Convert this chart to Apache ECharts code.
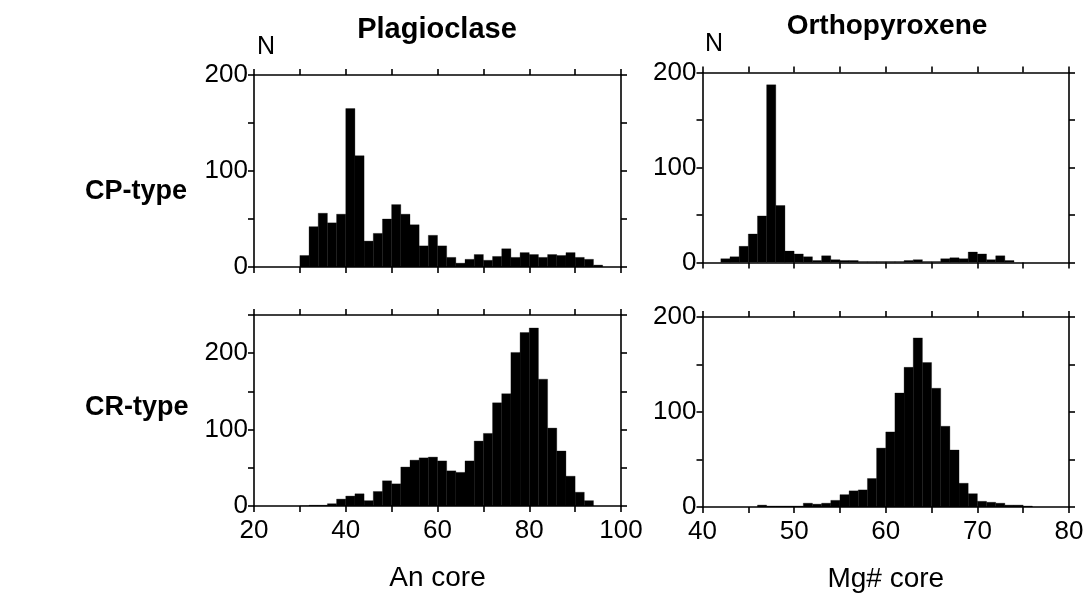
<!DOCTYPE html>
<html>
<head>
<meta charset="utf-8">
<script src="https://cdn.jsdelivr.net/npm/echarts@6/dist/echarts.min.js"></script>
<style>
html,body{margin:0;padding:0;background:#fff;}
#chart{width:1091px;height:594px;}
</style>
</head>
<body>
<div id="chart"></div>
<script>
// ---- Data (histogram counts) ----
// Plagioclase An core, CP-type: bins of width 2 starting at 30
const plagCPStart = 30;
const plagCPWidth = 2;
const plagCP = [12, 42, 56, 46, 55, 165, 116, 27, 35, 50, 65, 55, 44, 22, 33, 22, 10, 4, 8, 13, 7, 11, 19, 10, 15, 13, 10, 13, 12, 15, 10, 8, 2];

// Plagioclase An core, CR-type: bins of width 2 starting at 30
const plagCRStart = 30;
const plagCRWidth = 2;
const plagCR = [0, 1, 1, 3, 9, 13, 16, 7, 19, 33, 29, 51, 60, 63, 64, 59, 46, 44, 59, 85, 95, 135, 147, 201, 227, 233, 166, 102, 72, 39, 18, 7];

// Orthopyroxene Mg# core, CP-type: bins of width 1 starting at 42
const opxCPStart = 42;
const opxCPWidth = 1;
const opxCP = [4, 6, 17, 30, 49, 187, 60, 12, 9, 6, 2, 7, 3, 2, 2, 1, 1, 1, 1, 1, 2, 3, 1, 1, 4, 5, 4, 11, 9, 3, 7, 2];

// Orthopyroxene Mg# core, CR-type: bins of width 1 starting at 46
const opxCRStart = 46;
const opxCRWidth = 1;
const opxCR = [2, 1, 1, 1, 1, 4, 3, 4, 7, 13, 17, 18, 30, 62, 79, 120, 147, 178, 152, 125, 85, 60, 25, 14, 6, 5, 4, 2, 2, 1];

// Axis ranges / labels
const anRange = [20, 100];
const mgRange = [40, 80];
const titles = ['Plagioclase', 'Orthopyroxene'];
const rowLabels = ['CP-type', 'CR-type'];
const xNames = ['An core', 'Mg# core'];
const yName = 'N';

// ---- Build chart ----
function bins(start, width, vals) {
  return vals.map((v, i) => [start + i * width, start + (i + 1) * width, v]);
}

const FONT = '"Liberation Sans", Arial, Helvetica, sans-serif';
const lineStyle = { color: '#000', width: 1.6 };

const panels = [
  { grid: { left: 254, top: 75, width: 367, height: 192 }, x: anRange, xInt: 10, labelStep: 20, yMax: 200, showX: false,
    data: bins(plagCPStart, plagCPWidth, plagCP) },
  { grid: { left: 702.5, top: 72.5, width: 366.5, height: 190 }, x: mgRange, xInt: 5, labelStep: 10, yMax: 200, showX: false,
    data: bins(opxCPStart, opxCPWidth, opxCP) },
  { grid: { left: 254, top: 315, width: 367, height: 191 }, x: anRange, xInt: 10, labelStep: 20, yMax: 250, showX: true, xName: xNames[0],
    data: bins(plagCRStart, plagCRWidth, plagCR) },
  { grid: { left: 702.5, top: 317, width: 366.5, height: 191 }, x: mgRange, xInt: 5, labelStep: 10, yMax: 200, showX: true, xName: xNames[1],
    data: bins(opxCRStart, opxCRWidth, opxCR) }
];

const grid = [], xAxis = [], yAxis = [], series = [];
panels.forEach((p, k) => {
  grid.push(Object.assign({ containLabel: false }, p.grid));
  const baseX = {
    type: 'value', gridIndex: k, min: p.x[0], max: p.x[1], interval: p.xInt,
    axisLine: { show: true, onZero: false, lineStyle },
    axisTick: { show: true, inside: false, length: 6, lineStyle },
    splitLine: { show: false }
  };
  xAxis.push(Object.assign({}, baseX, {
    position: 'bottom',
    axisLabel: {
      show: p.showX, margin: 12, color: '#000', fontSize: 26, fontFamily: FONT,
      formatter: v => (v % p.labelStep === 0 ? String(v) : '')
    },
    name: p.xName || '', nameLocation: 'middle', nameGap: 58,
    nameTextStyle: { color: '#000', fontSize: 28, fontFamily: FONT }
  }));
  xAxis.push(Object.assign({}, baseX, { position: 'top', axisLabel: { show: false } }));
  const baseY = {
    type: 'value', gridIndex: k, min: 0, max: p.yMax, interval: 50,
    axisLine: { show: true, onZero: false, lineStyle },
    axisTick: { show: true, inside: false, length: 6, lineStyle },
    splitLine: { show: false }
  };
  yAxis.push(Object.assign({}, baseY, {
    position: 'left',
    axisLabel: {
      show: true, margin: 6, color: '#000', fontSize: 26, fontFamily: FONT,
      formatter: v => (v % 100 === 0 ? String(v) : '')
    }
  }));
  yAxis.push(Object.assign({}, baseY, { position: 'right', axisLabel: { show: false } }));
  series.push({
    type: 'custom',
    xAxisIndex: 2 * k, yAxisIndex: 2 * k,
    data: p.data,
    encode: { x: [0, 1], y: 2 },
    clip: true,
    renderItem: function (params, api) {
      const p0 = api.coord([api.value(0), api.value(2)]);
      const p1 = api.coord([api.value(1), 0]);
      return {
        type: 'rect',
        shape: { x: p0[0], y: p0[1], width: p1[0] - p0[0], height: p1[1] - p0[1] },
        style: { fill: '#000', stroke: '#000', lineWidth: 0.3 }
      };
    }
  });
});

const graphic = [
  { type: 'text', x: 437, y: 15, style: { text: titles[0], font: 'bold 29px ' + FONT, fill: '#000', align: 'center', verticalAlign: 'top' } },
  { type: 'text', x: 887, y: 12, style: { text: titles[1], font: 'bold 28px ' + FONT, fill: '#000', align: 'center', verticalAlign: 'top' } },
  { type: 'text', x: 85, y: 178, style: { text: rowLabels[0], font: 'bold 27px ' + FONT, fill: '#000', verticalAlign: 'top' } },
  { type: 'text', x: 85, y: 394, style: { text: rowLabels[1], font: 'bold 27px ' + FONT, fill: '#000', verticalAlign: 'top' } },
  { type: 'text', x: 257, y: 35, style: { text: yName, font: '25px ' + FONT, fill: '#000', verticalAlign: 'top' } },
  { type: 'text', x: 705, y: 32, style: { text: yName, font: '25px ' + FONT, fill: '#000', verticalAlign: 'top' } }
];

const chart = echarts.init(document.getElementById('chart'), null, { renderer: 'canvas' });
chart.setOption({
  animation: false,
  backgroundColor: '#fff',
  grid, xAxis, yAxis, series, graphic
});
</script>
</body>
</html>
